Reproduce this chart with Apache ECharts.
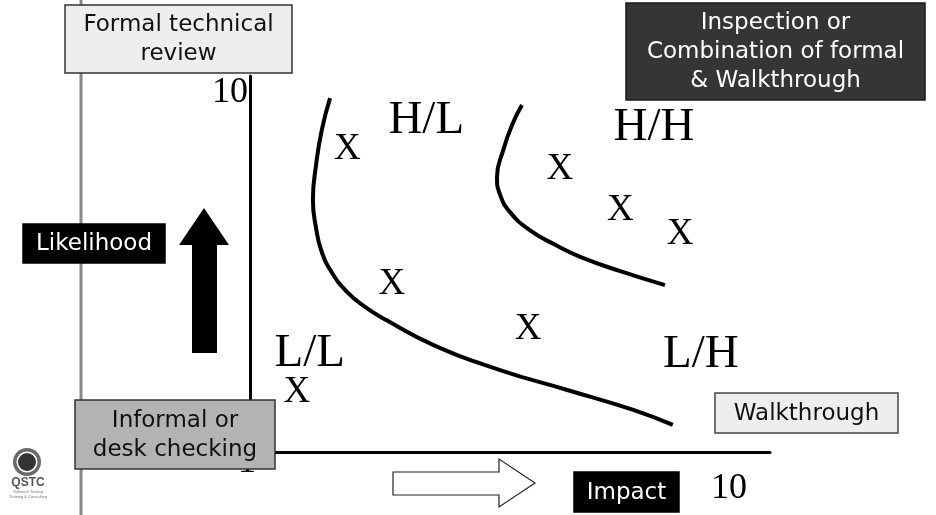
<!DOCTYPE html>
<html>
<head>
<meta charset="utf-8">
<script src="https://cdn.jsdelivr.net/npm/echarts@6/dist/echarts.min.js"></script>
<style>
  html, body { margin: 0; padding: 0; background: #fff; }
  #main { width: 936px; height: 515px; }
</style>
</head>
<body>
<div id="main"></div>
<script>
// review items placed on the likelihood / impact grid (impact, likelihood)
const xMarks = [[1.87, 8.11], [2.73, 4.52], [0.90, 1.65], [5.96, 7.58], [7.12, 6.49], [8.27, 5.85], [5.35, 3.32]];

// quadrant names
const regionNames = ['H/L', 'H/H', 'L/L', 'L/H'];
const regionPos = [[3.37, 8.88], [7.75, 8.70], [1.13, 2.69], [8.65, 2.66]];

// hand drawn boundaries
const lowBoundary = [[1.54, 9.41], [1.38, 8.56], [1.27, 7.63], [1.21, 6.70], [1.27, 5.96], [1.38, 5.32],
  [1.58, 4.76], [1.85, 4.28], [2.19, 3.88], [2.62, 3.51], [3.52, 2.85], [4.81, 2.18],
  [6.10, 1.65], [7.37, 1.12], [8.13, 0.72]];
const highBoundary = [[5.23, 9.23], [5.04, 8.70], [4.87, 8.03], [4.75, 7.31], [4.81, 6.84], [5.00, 6.38],
  [5.38, 5.90], [5.87, 5.51], [6.35, 5.19], [7.12, 4.81], [7.98, 4.44]];

// tick labels
const yTickLabels = ['1', '10'];
const xTickLabels = ['10'];

// review type boxes
const formalText = 'Formal technical\nreview';
const inspectionText = 'Inspection or\nCombination of formal\n& Walkthrough';
const informalText = 'Informal or\ndesk checking';
const walkText = 'Walkthrough';
const likelihoodText = 'Likelihood';
const impactText = 'Impact';

const SANS = '"DejaVu Sans", Verdana, sans-serif';
const SERIF = '"Liberation Serif", "Times New Roman", serif';

const chart = echarts.init(document.getElementById('main'));

function box(x, y, w, h, fill, stroke, text, color) {
  return {
    type: 'group', z: 20,
    children: [
      {
        type: 'rect', z: 20,
        shape: { x: x, y: y, width: w, height: h },
        style: { fill: fill, stroke: stroke, lineWidth: 1.5 }
      },
      {
        type: 'text', z: 21,
        style: {
          text: text, x: x + w / 2, y: y + h / 2 + 1, fill: color, font: '23px ' + SANS, lineHeight: 29,
          align: 'center', textAlign: 'center', verticalAlign: 'middle', textVerticalAlign: 'middle'
        }
      }
    ]
  };
}

function label(text, x, y, align) {
  return {
    type: 'text', z: 15,
    style: { text: text, x: x, y: y, font: '36px ' + SERIF, fill: '#000',
      align: align, textAlign: align, verticalAlign: 'middle', textVerticalAlign: 'middle' }
  };
}

const option = {
  animation: false,
  grid: { left: 250, right: 166, top: 76, bottom: 63 },
  xAxis: {
    type: 'value', min: 0, max: 10,
    axisLine: { show: true, lineStyle: { color: '#000', width: 3 } },
    axisTick: { show: false }, axisLabel: { show: false }, splitLine: { show: false }
  },
  yAxis: {
    type: 'value', min: 0, max: 10,
    axisLine: { show: true, lineStyle: { color: '#000', width: 3 } },
    axisTick: { show: false }, axisLabel: { show: false }, splitLine: { show: false }
  },
  series: [
    {
      type: 'line', data: lowBoundary, smooth: 0.5, symbol: 'none',
      lineStyle: { color: '#000', width: 4 }, silent: true
    },
    {
      type: 'line', data: highBoundary, smooth: 0.5, symbol: 'none',
      lineStyle: { color: '#000', width: 4 }, silent: true
    },
    {
      type: 'scatter', data: xMarks, symbolSize: 1, silent: true,
      itemStyle: { color: 'rgba(0,0,0,0)' },
      label: { show: true, position: [0.5, 2.5], align: 'center', verticalAlign: 'middle', formatter: 'X',
        color: '#000', opacity: 1, textBorderWidth: 0, fontFamily: SERIF, fontSize: 37 }
    },
    {
      type: 'scatter', silent: true, symbolSize: 1,
      data: regionNames.map((n, i) => ({ name: n, value: regionPos[i] })),
      itemStyle: { color: 'rgba(0,0,0,0)' },
      label: { show: true, position: [1.5, 3.5], align: 'center', verticalAlign: 'middle', formatter: '{b}',
        color: '#000', opacity: 1, textBorderWidth: 0, fontFamily: SERIF, fontSize: 47 }
    }
  ],
  graphic: [
    // left margin rule
    { type: 'line', z: 5, shape: { x1: 81, y1: 0, x2: 81, y2: 515 }, style: { stroke: '#888', lineWidth: 3 } },
    // tick labels
    label(yTickLabels[1], 248, 93, 'right'),
    label(yTickLabels[0], 247, 463, 'center'),
    label(xTickLabels[0], 729, 489, 'center'),
    // boxes
    box(65, 5, 227, 68, '#eeeeee', '#333', formalText, '#111'),
    box(626, 3, 299, 97, '#353535', '#1a1a1a', inspectionText, '#fff'),
    box(23, 224, 142, 39, '#000', '#000', likelihoodText, '#fff'),
    box(75, 400, 200, 69, '#b3b3b3', '#333', informalText, '#111'),
    box(715, 393, 183, 40, '#eeeeee', '#444', walkText, '#111'),
    box(574, 472, 105, 40, '#000', '#000', impactText, '#fff'),
    // likelihood arrow
    {
      type: 'polygon', z: 20,
      shape: { points: [[192, 353], [217, 353], [217, 245], [229, 245], [204, 208], [179, 245], [192, 245]] },
      style: { fill: '#000' }
    },
    // impact arrow
    {
      type: 'polygon', z: 20,
      shape: { points: [[393, 472], [499, 472], [499, 459], [535, 483], [499, 507], [499, 495], [393, 495]] },
      style: { fill: '#fff', stroke: '#222', lineWidth: 1.2 }
    },
    // logo
    { type: 'circle', z: 20, shape: { cx: 27, cy: 462, r: 14 }, style: { fill: '#6a6a6a' } },
    { type: 'circle', z: 21, shape: { cx: 27, cy: 462, r: 10.5 }, style: { fill: '#fff' } },
    { type: 'circle', z: 22, shape: { cx: 27, cy: 462, r: 9 }, style: { fill: '#333' } },
    {
      type: 'text', z: 20,
      style: { text: 'QSTC', x: 28, y: 483, font: 'bold 12px "Liberation Sans Narrow", "Liberation Sans", sans-serif',
        fill: '#555', align: 'center', textAlign: 'center', verticalAlign: 'middle', textVerticalAlign: 'middle' }
    },
    {
      type: 'text', z: 20,
      style: { text: 'Software Testing\nTraining & Consulting', x: 28, y: 494, font: '4px sans-serif', lineHeight: 5,
        fill: '#777', align: 'center', textAlign: 'center', verticalAlign: 'middle', textVerticalAlign: 'middle' }
    }
  ]
};

chart.setOption(option);
</script>
</body>
</html>
